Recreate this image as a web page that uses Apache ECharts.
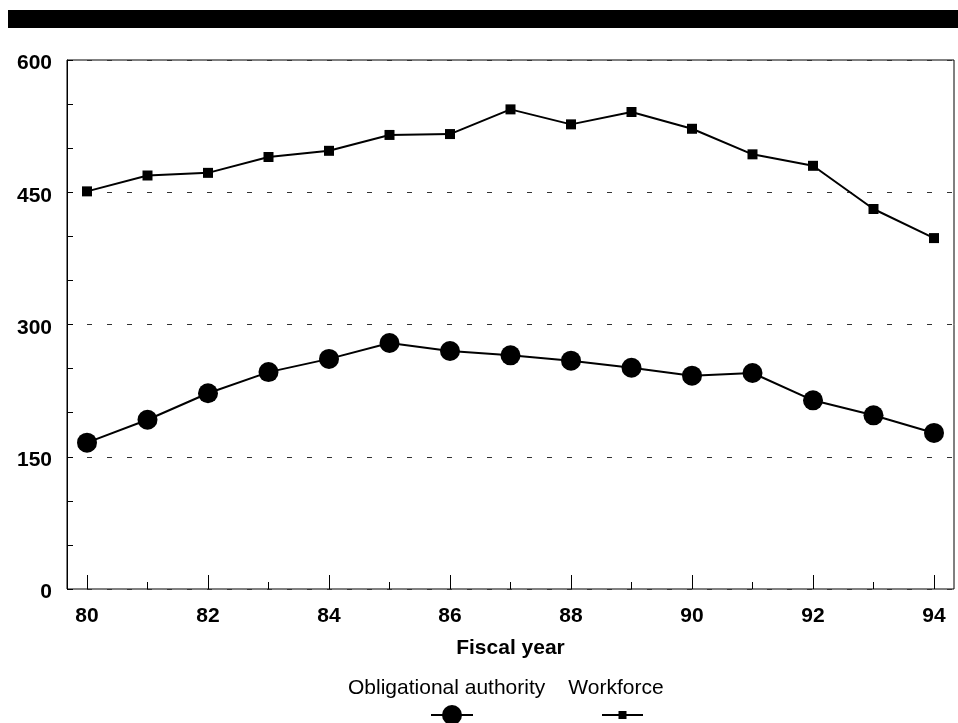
<!DOCTYPE html>
<html>
<head>
<meta charset="utf-8">
<style>
  html, body { margin: 0; padding: 0; background: #fff; }
  #chart { width: 958px; height: 723px; }
</style>
<script src="https://cdn.jsdelivr.net/npm/echarts@6/dist/echarts.min.js"></script>
</head>
<body>
<div id="chart"></div>
<script>
// Data
var years = [80, 81, 82, 83, 84, 85, 86, 87, 88, 89, 90, 91, 92, 93, 94];
var obligationalAuthority = [166, 192, 222, 246, 261, 279, 270, 265, 259, 251, 242, 245, 214, 197, 177];
var workforce = [451, 469, 472, 490, 497, 515, 516, 544, 527, 541, 522, 493, 480, 431, 398];
var yTicks = [0, 150, 300, 450, 600];
var xLabelYears = [80, 82, 84, 86, 88, 90, 92, 94];

var FONT = '"Liberation Sans", Arial, Helvetica, sans-serif';

function pairs(xs, ys) {
  return xs.map(function (x, i) { return [x, ys[i]]; });
}

var chart = echarts.init(document.getElementById('chart'), null, { renderer: 'canvas' });

var option = {
  backgroundColor: '#ffffff',
  animation: false,
  graphic: [
    { type: 'rect', left: 8, top: 10, shape: { width: 950, height: 18 }, style: { fill: '#000' } }
  ],
  grid: [
    // frame grid
    { left: 67, right: 4, top: 60, bottom: 134, show: true, borderColor: '#000', borderWidth: 1, backgroundColor: 'transparent' },
    // data grid
    { left: 87, right: 24, top: 60, bottom: 134, show: false }
  ],
  xAxis: [
    { gridIndex: 0, type: 'value', min: 0, max: 1, show: false },
    {
      gridIndex: 1, type: 'value', min: 80, max: 94, interval: 2,
      axisLine: { show: false },
      axisTick: { show: true, inside: true, length: 14, lineStyle: { color: '#000', width: 1 } },
      minorTick: { show: true, splitNumber: 2, length: 7, lineStyle: { color: '#000', width: 1 } },
      splitLine: { show: false },
      axisLabel: {
        margin: 17, color: '#000', fontFamily: FONT, fontWeight: 'bold', fontSize: 21,
        formatter: function (v) { return xLabelYears.indexOf(v) >= 0 ? String(v) : ''; }
      },
      name: 'Fiscal year', nameLocation: 'middle', nameGap: 49,
      nameTextStyle: { color: '#000', fontFamily: FONT, fontWeight: 'bold', fontSize: 21 }
    }
  ],
  yAxis: [
    {
      gridIndex: 0, type: 'value', min: 0, max: 600, interval: 150,
      axisLine: { show: true, lineStyle: { color: '#000', width: 1 } },
      axisTick: { show: true, inside: true, length: 6, lineStyle: { color: '#000' } },
      minorTick: { show: true, splitNumber: 3, length: 6, lineStyle: { color: '#000' } },
      splitLine: { show: true, lineStyle: { color: '#333', width: 1, type: [5, 15] } },
      axisLabel: {
        margin: 15, color: '#000', fontFamily: FONT, fontWeight: 'bold', fontSize: 21,
        formatter: function (v) { return yTicks.indexOf(v) >= 0 ? '{t|' + v + '}' : ''; },
        rich: {
          t: { fontFamily: FONT, fontWeight: 'bold', fontSize: 21, color: '#000', padding: [7, 0, 0, 0] }
        }
      }
    },
    { gridIndex: 1, type: 'value', min: 0, max: 600, show: false }
  ],
  legend: [
    {
      data: ['Obligational authority', 'Workforce'],
      left: 343, top: 678, padding: 0, itemWidth: 0, itemHeight: 21, itemGap: 18,
      icon: 'none', selectedMode: false,
      textStyle: { color: '#000', fontFamily: FONT, fontSize: 21 }
    },
    {
      data: ['Obligational authority'],
      left: 430, top: 702.5, padding: 0, itemWidth: 42, itemHeight: 25, selectedMode: false,
      formatter: function () { return ''; }
    },
    {
      data: ['Workforce'],
      left: 601, top: 710, padding: 0, itemWidth: 41, itemHeight: 10, selectedMode: false,
      formatter: function () { return ''; }
    }
  ],
  series: [
    {
      name: 'Obligational authority', type: 'line', xAxisIndex: 1, yAxisIndex: 1,
      data: pairs(years, obligationalAuthority),
      symbol: 'circle', symbolSize: 20,
      lineStyle: { color: '#000', width: 2 },
      itemStyle: { color: '#000' },
      z: 3
    },
    {
      name: 'Workforce', type: 'line', xAxisIndex: 1, yAxisIndex: 1,
      data: pairs(years, workforce),
      symbol: 'rect', symbolSize: 10,
      lineStyle: { color: '#000', width: 2 },
      itemStyle: { color: '#000' },
      z: 3
    }
  ]
};

chart.setOption(option);
</script>
</body>
</html>
